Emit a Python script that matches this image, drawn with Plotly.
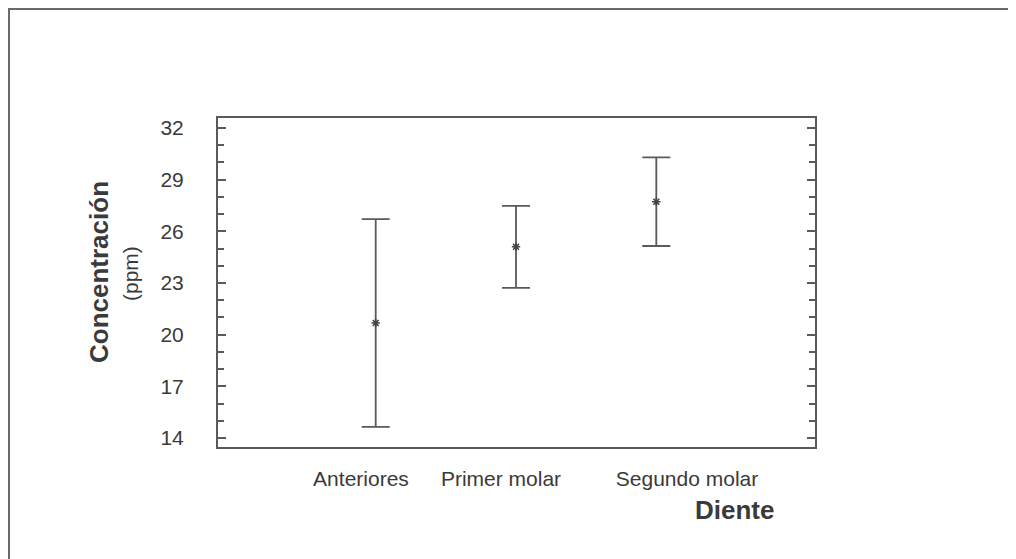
import plotly.graph_objects as go

# Data
categories = ["Anteriores", "Primer molar", "Segundo molar"]
means = [20.68, 25.10, 27.72]
errors = [6.03, 2.38, 2.57]
y_ticks = [14, 17, 20, 23, 26, 29, 32]
label_pos = [-0.105, 0.893, 2.219]

# page has an 8px body margin; work in page pixel coords
OFF = 8
W, H = 1016 - OFF, 559 - OFF
L, R, T, B = 218 - OFF, 1016 - 815, 118 - OFF, 559 - 447
pw, ph = W - L - R, H - T - B

def px_x(px):
    return (px - OFF - L) / pw

def px_y(py):
    return 1 - (py - OFF - T) / ph

FONT = "Liberation Sans, Arial, sans-serif"
TXT = "#3a3a3a"
LINE = "#5a5a5a"

fig = go.Figure()
fig.add_trace(go.Scatter(
    x=list(range(len(categories))),
    y=means,
    mode="markers",
    marker=dict(symbol="asterisk", size=7, color="#444", line=dict(width=1.5, color="#444")),
    error_y=dict(type="data", array=errors, symmetric=True, width=14, thickness=1.8, color=LINE),
    showlegend=False,
    hoverinfo="skip",
))

fig.update_layout(
    width=W, height=H,
    margin=dict(l=L, r=R, t=T, b=B),
    paper_bgcolor="white",
    plot_bgcolor="white",
    font=dict(family=FONT, color=TXT, size=21),
    xaxis=dict(
        range=[-1.124, 3.131],
        showgrid=False, zeroline=False,
        showline=True, linecolor=LINE, linewidth=2, mirror=True,
        ticks="",
        tickvals=label_pos, ticktext=categories,
        tickfont=dict(size=21, color=TXT, family=FONT),
        ticklabelstandoff=12,
    ),
    yaxis=dict(
        range=[13.48, 32.58],
        showgrid=False, zeroline=False,
        showline=True, linecolor=LINE, linewidth=2, mirror="allticks",
        ticks="inside", ticklen=8, tickwidth=2, tickcolor=LINE,
        tickvals=y_ticks,
        minor=dict(dtick=1, tick0=14, ticks="inside", ticklen=6, tickwidth=2, tickcolor=LINE, showgrid=False),
        tickfont=dict(size=21, color=TXT, family=FONT),
        ticklabelstandoff=28,
    ),
    shapes=[
        dict(type="line", xref="paper", yref="paper", x0=px_x(8), x1=px_x(1030), y0=px_y(9), y1=px_y(9),
             line=dict(color="#6a6a6a", width=2)),
        dict(type="line", xref="paper", yref="paper", x0=px_x(9), x1=px_x(9), y0=px_y(9), y1=px_y(575),
             line=dict(color="#6a6a6a", width=2)),
    ],
    annotations=[
        dict(text="<b>Concentración</b>", xref="paper", yref="paper", x=px_x(99), y=px_y(272),
             textangle=-90, showarrow=False, xanchor="center", yanchor="middle",
             font=dict(size=26, color=TXT, family=FONT)),
        dict(text="(ppm)", xref="paper", yref="paper", x=px_x(130), y=px_y(274),
             textangle=-90, showarrow=False, xanchor="center", yanchor="middle",
             font=dict(size=21, color=TXT, family=FONT)),
        dict(text="<b>Diente</b>", xref="paper", yref="paper", x=px_x(776), y=px_y(510),
             showarrow=False, xanchor="right", yanchor="middle",
             font=dict(size=26, color=TXT, family=FONT)),
    ],
)

fig.write_html("out.html")
